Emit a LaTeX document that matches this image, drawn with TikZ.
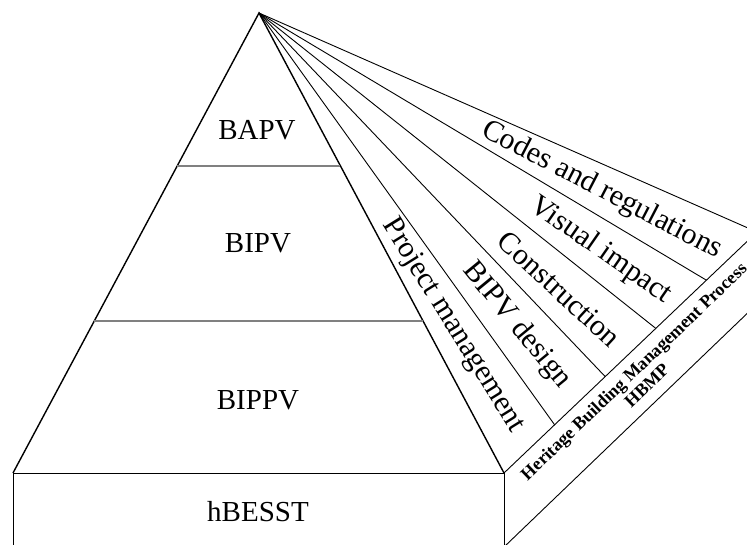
\documentclass[tikz,border=0pt]{standalone}
\usepackage{fontspec}
\setmainfont{Liberation Serif}
\usetikzlibrary{calc}
\begin{document}
\begin{tikzpicture}[x=1pt,y=1pt,
    outline/.style={line width=1.4pt},
    divider/.style={line width=1.1pt, gray},
    fanline/.style={line width=0.9pt},
    lbl/.style={font=\fontsize{29}{30}\selectfont},
    raylbl/.style={font=\fontsize{30}{31}\selectfont, inner sep=0pt},
    bandlbl/.style={font=\bfseries\fontsize{18}{19}\selectfont, align=center, inner sep=0pt}]
    \useasboundingbox (0,0) rectangle (747,545);
    \clip (0,0) rectangle (747,545);

    \coordinate (Top) at (259,532);
    \coordinate (L) at (13,72);
    \coordinate (R) at (504,72);
    \coordinate (BL) at (13,-2);
    \coordinate (BR) at (504,-2);
    \coordinate (E) at (757,313);
    \coordinate (F) at (757,241);

    % pyramid and base
    \draw[outline] (L) -- (Top) -- (R);
    \draw[fanline] (BL) -- (L) -- (R) -- (BR);
    \draw[divider] ($(Top)!0.3326!(L)$) -- ($(Top)!0.3326!(R)$);
    \draw[divider] ($(Top)!0.6696!(L)$) -- ($(Top)!0.6696!(R)$);

    % fan and band
    \foreach \k in {1,...,5}
        \draw[fanline] (Top) -- ($(R)!\k/5!(E)$);
    \draw[fanline] (R) -- (E);
    \draw[fanline] (BR) -- (F);

    \node[lbl] (bapv) at (257,415) {BAPV};
    \node[lbl] (bipv) at (258,302) {BIPV};
    \node[lbl] (bippv) at (258,145) {BIPPV};
    \node[lbl] (hbesst) at (258,33) {hBESST};

    \node[raylbl, rotate=-58.2] (pm) at ($(Top)+(-58.2:368pt)$) {Project management};
    \node[raylbl, rotate=-50.5] (design) at ($(Top)+(-50.5:405pt)$) {BIPV design};
    \node[raylbl, rotate=-42.6] (constr) at ($(Top)+(-42.6:408pt)$) {Construction};
    \node[raylbl, rotate=-34.8] (visual) at ($(Top)+(-34.8:416pt)$) {Visual impact};
    \node[raylbl, rotate=-27.4] (codes) at ($(Top)+(-27.4:386pt)$) {Codes and regulations};
    \node[bandlbl, rotate=43.8] (hbmp) at (640,167) {Heritage Building Management Process\\HBMP};
\end{tikzpicture}
\end{document}
